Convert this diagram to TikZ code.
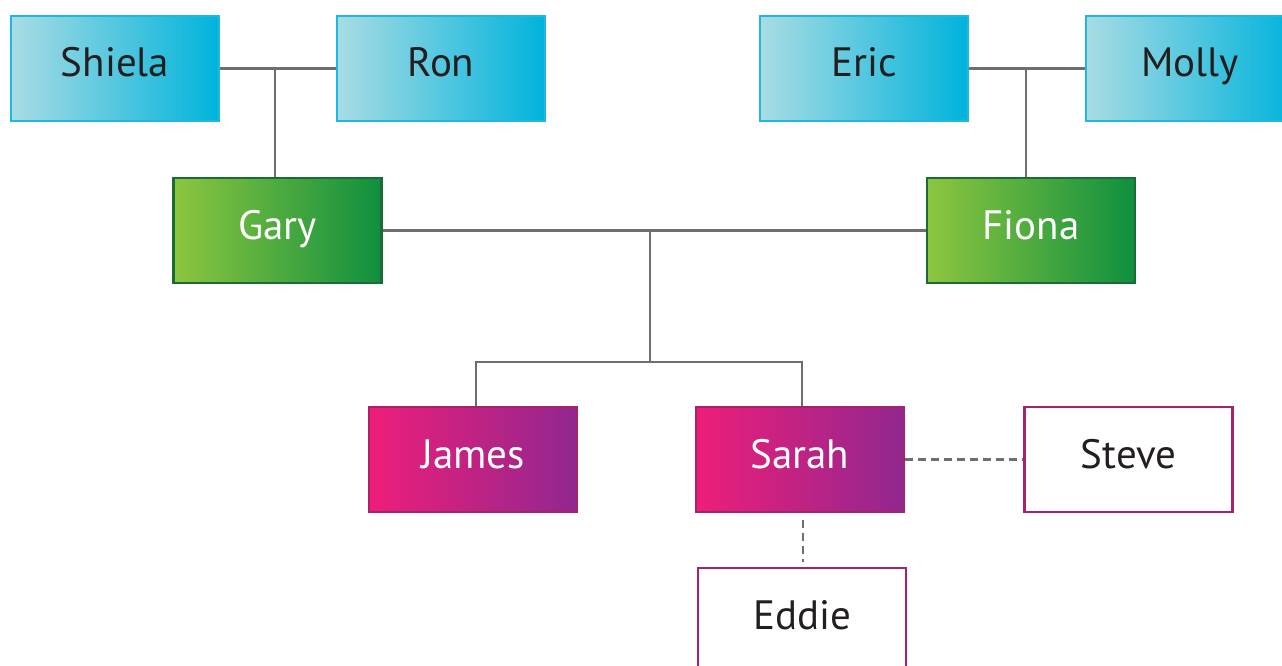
\documentclass[tikz,border=0pt]{standalone}
\usepackage{fontspec}
\setmainfont{PT Sans}
\definecolor{lineGray}{HTML}{6D6E71}
\definecolor{textDark}{HTML}{231F20}
\definecolor{blueL}{HTML}{A9DCE3}
\definecolor{blueR}{HTML}{00B3DC}
\definecolor{blueB}{HTML}{1DB9E0}
\definecolor{greenL}{HTML}{8DC63F}
\definecolor{greenR}{HTML}{0F8F3F}
\definecolor{greenB}{HTML}{1A6B35}
\definecolor{pinkL}{HTML}{EE1E79}
\definecolor{pinkR}{HTML}{91278F}
\definecolor{pinkB}{HTML}{A8226B}
\tikzset{
  person/.style={rectangle, minimum width=208pt, minimum height=105pt,
    inner sep=0pt, line width=2.5pt, text height=30pt, text depth=13pt,
    font=\fontsize{41}{46}\selectfont},
  grandparent/.style={person, draw=blueB, shading=axis, left color=blueL,
    right color=blueR, text=textDark},
  parent/.style={person, draw=greenB, shading=axis, left color=greenL,
    right color=greenR, text=white},
  child/.style={person, draw=pinkB, shading=axis, left color=pinkL,
    right color=pinkR, text=white},
  partner/.style={person, draw=pinkB, fill=white, text=textDark},
  link/.style={draw=lineGray, line width=2.5pt},
  loose/.style={link, dash pattern=on 8pt off 5pt}
}
\begin{document}
\begin{tikzpicture}[x=1pt, y=-1pt]
\useasboundingbox (0,0) rectangle (1282,666);

% grandparents
\node[grandparent] (shiela) at (115,68.5) {Shiela};
\node[grandparent] (ron)    at (441,68.5) {Ron};
\node[grandparent] (eric)   at (864,68.5) {Eric};
\node[grandparent] (molly)  at (1190,68.5) {Molly};

% parents
\node[parent] (gary)  at (277.5,230.5) {Gary};
\node[parent] (fiona) at (1031,230.5) {Fiona};

% children
\node[child] (james) at (473,459.5) {James};
\node[child] (sarah) at (800,459.5) {Sarah};

% partner and child of Sarah
\node[partner] (steve) at (1128.5,459.5) {Steve};
\node[partner] (eddie) at (802,620.5) {Eddie};

% junction points
\coordinate (sr) at (275,68.5);
\coordinate (em) at (1026,68.5);
\coordinate (gf) at (650,230.5);
\coordinate (kids) at (650,362);

% marriages and descent
\draw[link] (shiela.east) -- (ron.west);
\draw[link] (sr) -- (sr |- gary.north);
\draw[link] (eric.east) -- (molly.west);
\draw[link] (em) -- (em |- fiona.north);
\draw[link] (gary.east) -- (fiona.west);
\draw[link] (gf) -- (kids);
\draw[link] ([xshift=3pt]james.north) |- (kids) -| ([xshift=2pt]sarah.north);

% looser relations
\draw[loose] (sarah.east) -- (steve.west);
\draw[loose, shorten <=7pt, shorten >=5pt]
  ([xshift=3pt]sarah.south) -- ([xshift=1pt]eddie.north);
\end{tikzpicture}
\end{document}
